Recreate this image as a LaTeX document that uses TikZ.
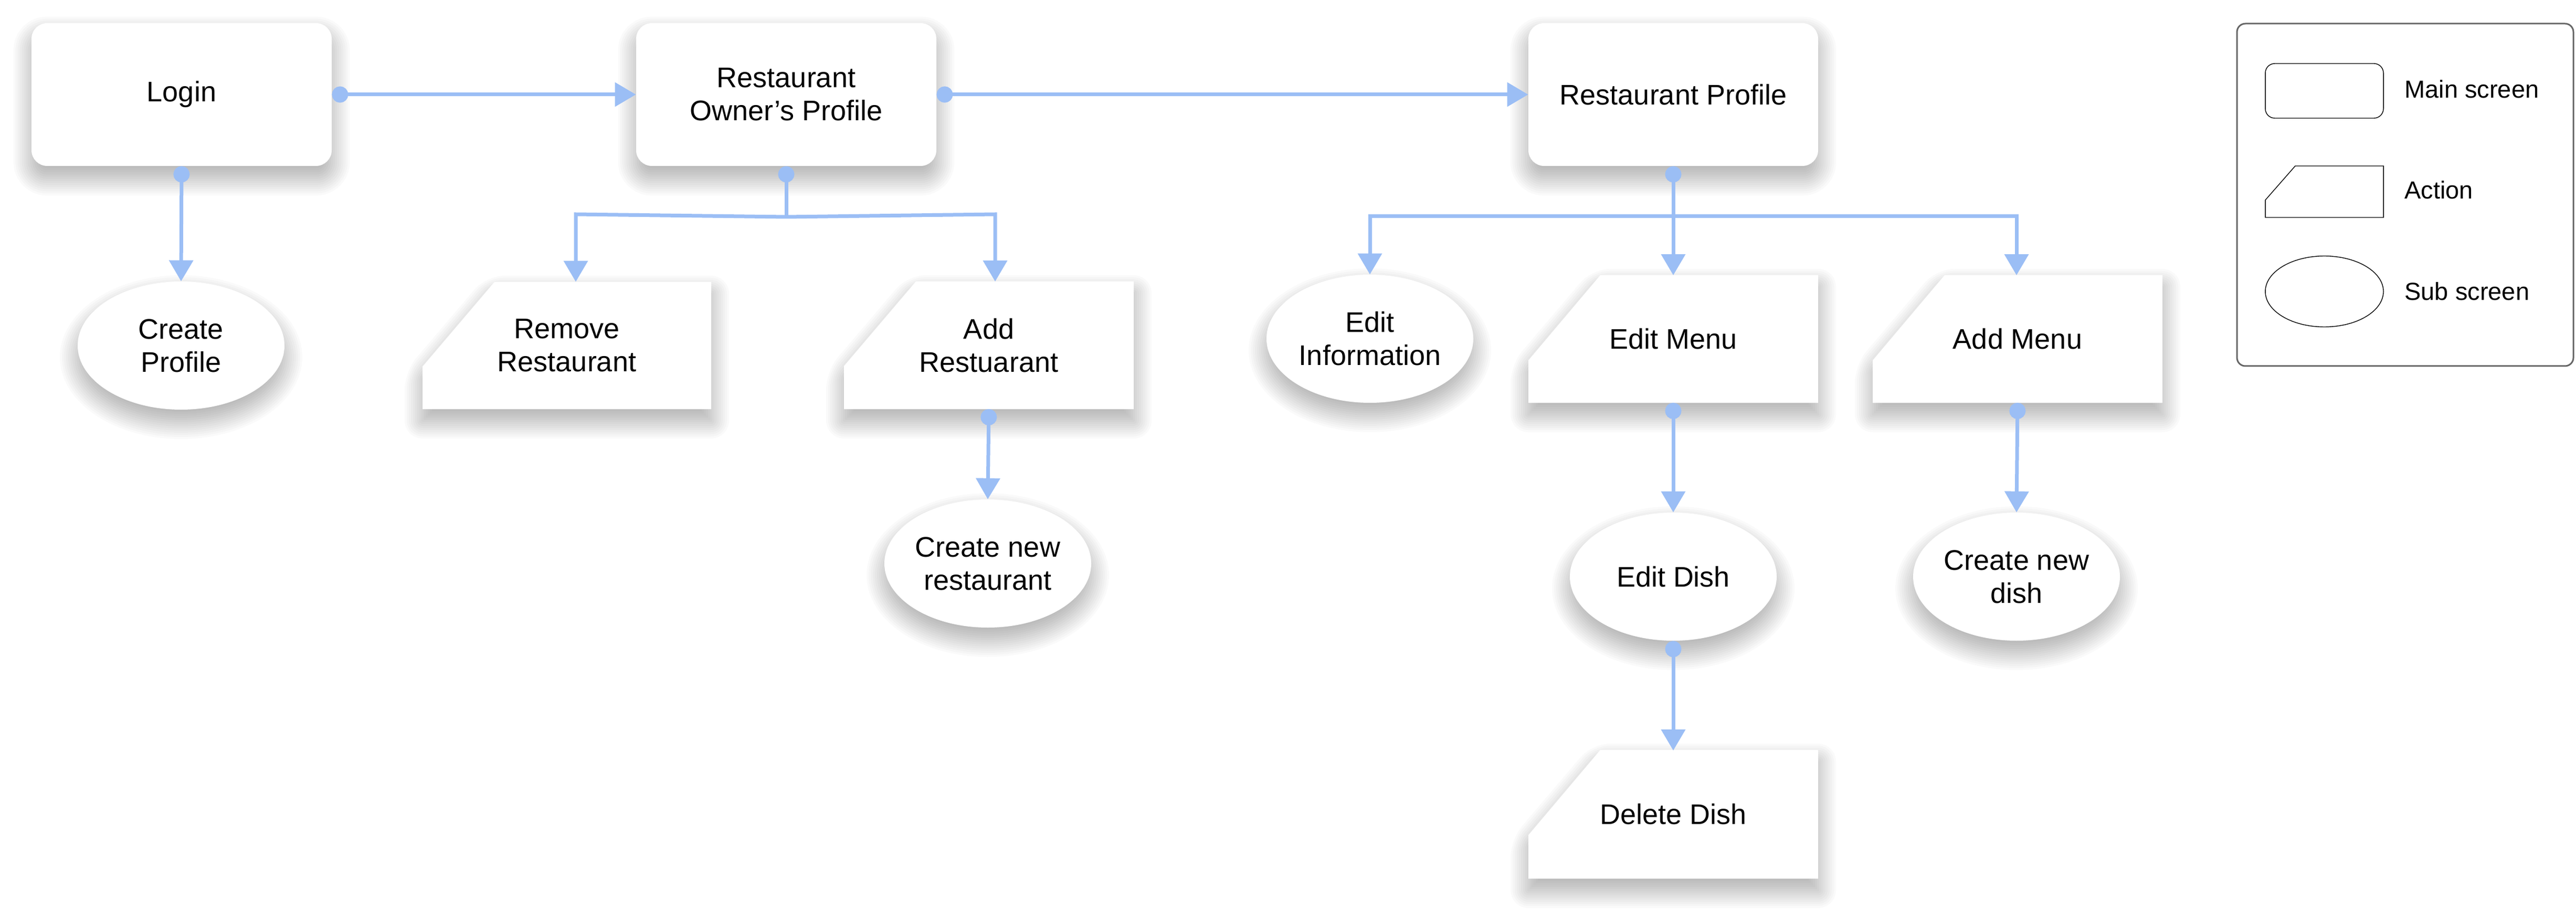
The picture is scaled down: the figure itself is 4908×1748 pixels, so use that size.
\documentclass[tikz,border=0pt]{standalone}
\usepackage{fontspec}
\setmainfont{Liberation Sans}
\usetikzlibrary{arrows.meta,shapes.geometric,backgrounds}
\definecolor{connc}{RGB}{155,190,245}
\definecolor{framec}{RGB}{102,102,102}
% soft shadow of a rounded main box (node name)
\newcommand{\shadowrr}[1]{%
  \foreach \w in {-30,-26,...,34}{%
    \fill[shadowlayer, rounded corners={(30+\w)*0.5pt}]
      ([shift={(-\w,\w+22)}]#1.south west) rectangle ([shift={(\w,-\w+22)}]#1.north east);
  }%
}
% soft shadow of a sub-screen ellipse (node name)
\newcommand{\shadowell}[1]{%
  \foreach \w in {-30,-26,...,34}{%
    \fill[shadowlayer] ([shift={(0,22)}]#1.center) ellipse [x radius={(197+\w)*0.5pt}, y radius={(122+\w)*0.5pt}];
  }%
}
% soft shadow of an action shape: x0,y0,x1,y1
\newcommand{\shadowact}[4]{%
  \foreach \w in {-30,-26,...,34}{%
    \fill[shadowlayer, rounded corners={max(\w,0.1)*0.5pt}]
      ({#1+137-0.462*\w},{#2-\w+22}) -- ({#3+\w},{#2-\w+22}) -- ({#3+\w},{#4+\w+22})
      -- ({#1-\w},{#4+\w+22}) -- ({#1-\w},{#2+161-0.368*\w+22}) -- cycle;
  }%
}
\tikzset{
  shadowlayer/.style={fill=black, opacity=0.021},
  txt/.style={font=\fontsize{27}{31.5}\selectfont, align=center, text=black},
  mainbox/.style={txt, fill=white, rounded corners=15pt, inner sep=0pt, minimum height=136pt},
  subell/.style={txt, ellipse, fill=white, inner sep=0pt, minimum width=197pt, minimum height=122pt},
  actshape/.style={fill=white},
  actlabel/.style={txt, inner sep=0pt, minimum width=276pt, minimum height=121pt},
  linkfull/.style={draw=connc, line width=3.5pt, {Circle[length=15.5pt]}-{Triangle[length=20pt,width=22.5pt]}},
  linkstart/.style={draw=connc, line width=3.5pt, {Circle[length=15.5pt]}-},
  linkend/.style={draw=connc, line width=3.5pt, -{Triangle[length=20pt,width=22.5pt]}},
  lgshape/.style={draw=black, line width=0.7pt, fill=white},
  lgtext/.style={anchor=west, inner sep=0pt, font=\fontsize{23.5}{28}\selectfont, text=black}
}
\begin{document}
\begin{tikzpicture}[x=0.5pt,y=-0.5pt]
\useasboundingbox (0,0) rectangle (4908,1748);

% main screens
\node[mainbox, minimum width=286pt] (login) at (346,180) {Login};
\node[mainbox, minimum width=286pt] (rop) at (1498,180) {Restaurant\\Owner’s Profile};
\node[mainbox, minimum width=276pt] (rp) at (3188,180) {Restaurant Profile};

% sub screens
\node[subell] (cprof) at (345,658) {Create\\Profile};
\node[subell] (einfo) at (2610,645) {Edit\\Information};
\node[subell] (cnrest) at (1882,1073) {Create new\\restaurant};
\node[subell] (edish) at (3188,1098) {Edit Dish};
\node[subell] (cndish) at (3842,1098) {Create new\\dish};

% actions
\path[actshape] (942,537) -- (1355,537) -- (1355,779) -- (805,779) -- (805,698) -- cycle;
\node[actlabel] (remove) at (1080,658) {Remove\\Restaurant};
\path[actshape] (1745,536) -- (2160,536) -- (2160,779) -- (1608,779) -- (1608,697) -- cycle;
\node[actlabel] (addr) at (1884,657.5) {Add\\Restuarant};
\path[actshape] (3049,524) -- (3464,524) -- (3464,767) -- (2912,767) -- (2912,686) -- cycle;
\node[actlabel] (emenu) at (3188,645.5) {Edit Menu};
\path[actshape] (3705,524) -- (4120,524) -- (4120,767) -- (3568,767) -- (3568,686) -- cycle;
\node[actlabel] (amenu) at (3844,645.5) {Add Menu};
\path[actshape] (3049,1428) -- (3464,1428) -- (3464,1673) -- (2912,1673) -- (2912,1590) -- cycle;
\node[actlabel] (ddish) at (3188,1550.5) {Delete Dish};

% soft shadows, under everything
\begin{scope}[on background layer]
\fill[white] (0,0) rectangle (4908,1748);
\shadowrr{login}
\shadowrr{rop}
\shadowrr{rp}
\shadowell{cprof}
\shadowell{einfo}
\shadowell{cnrest}
\shadowell{edish}
\shadowell{cndish}
\shadowact{805}{537}{1355}{779}
\shadowact{1608}{536}{2160}{779}
\shadowact{2912}{524}{3464}{767}
\shadowact{3568}{524}{4120}{767}
\shadowact{2912}{1428}{3464}{1673}
\end{scope}

% connectors
\draw[linkfull] (login.east) -- (rop.west);
\draw[linkfull] (rop.east) -- (rp.west);
\draw[linkfull] (login.south) -- (cprof.north);

\draw[linkstart] (rop.south) -- (1498,413) coordinate (ropb);
\draw[linkend] (ropb) -- (1097,408) -- ([xshift=8.5pt]remove.north);
\draw[linkend] (ropb) -- (1896,408) -- ([xshift=6pt]addr.north);
\draw[linkfull] (addr.south) -- (cnrest.north);

\draw[linkstart] (rp.south) -- (3188,412) coordinate (rpb);
\draw[linkend] (rpb) -- (emenu.north);
\draw[linkend] (rpb) -- (2610,412) -- (einfo.north);
\draw[linkend] (rpb) -- (3842,412) -- ([xshift=-1pt]amenu.north);
\draw[linkfull] (emenu.south) -- (edish.north);
\draw[linkfull] (edish.south) -- (ddish.north);
\draw[linkfull] (amenu.south) -- (cndish.north);

% legend
\draw[draw=framec, line width=1.5pt, rounded corners=8pt, fill=white] (4262,45) rectangle (4903,697);
\node[lgshape, rounded corners=9pt, minimum width=112.5pt, minimum height=52pt, inner sep=0pt] (lgmain) at (4428.5,173) {};
\path[lgshape] (4373,316) -- (4541,316) -- (4541,414) -- (4316,414) -- (4316,381) -- cycle;
\node[lgshape, ellipse, minimum width=112.5pt, minimum height=67.5pt, inner sep=0pt] (lgsub) at (4428.5,555) {};
\node[lgtext] (lgt1) at (4581,170) {Main screen};
\node[lgtext] (lgt2) at (4581,362) {Action};
\node[lgtext] (lgt3) at (4581,555) {Sub screen};
\end{tikzpicture}
\end{document}
